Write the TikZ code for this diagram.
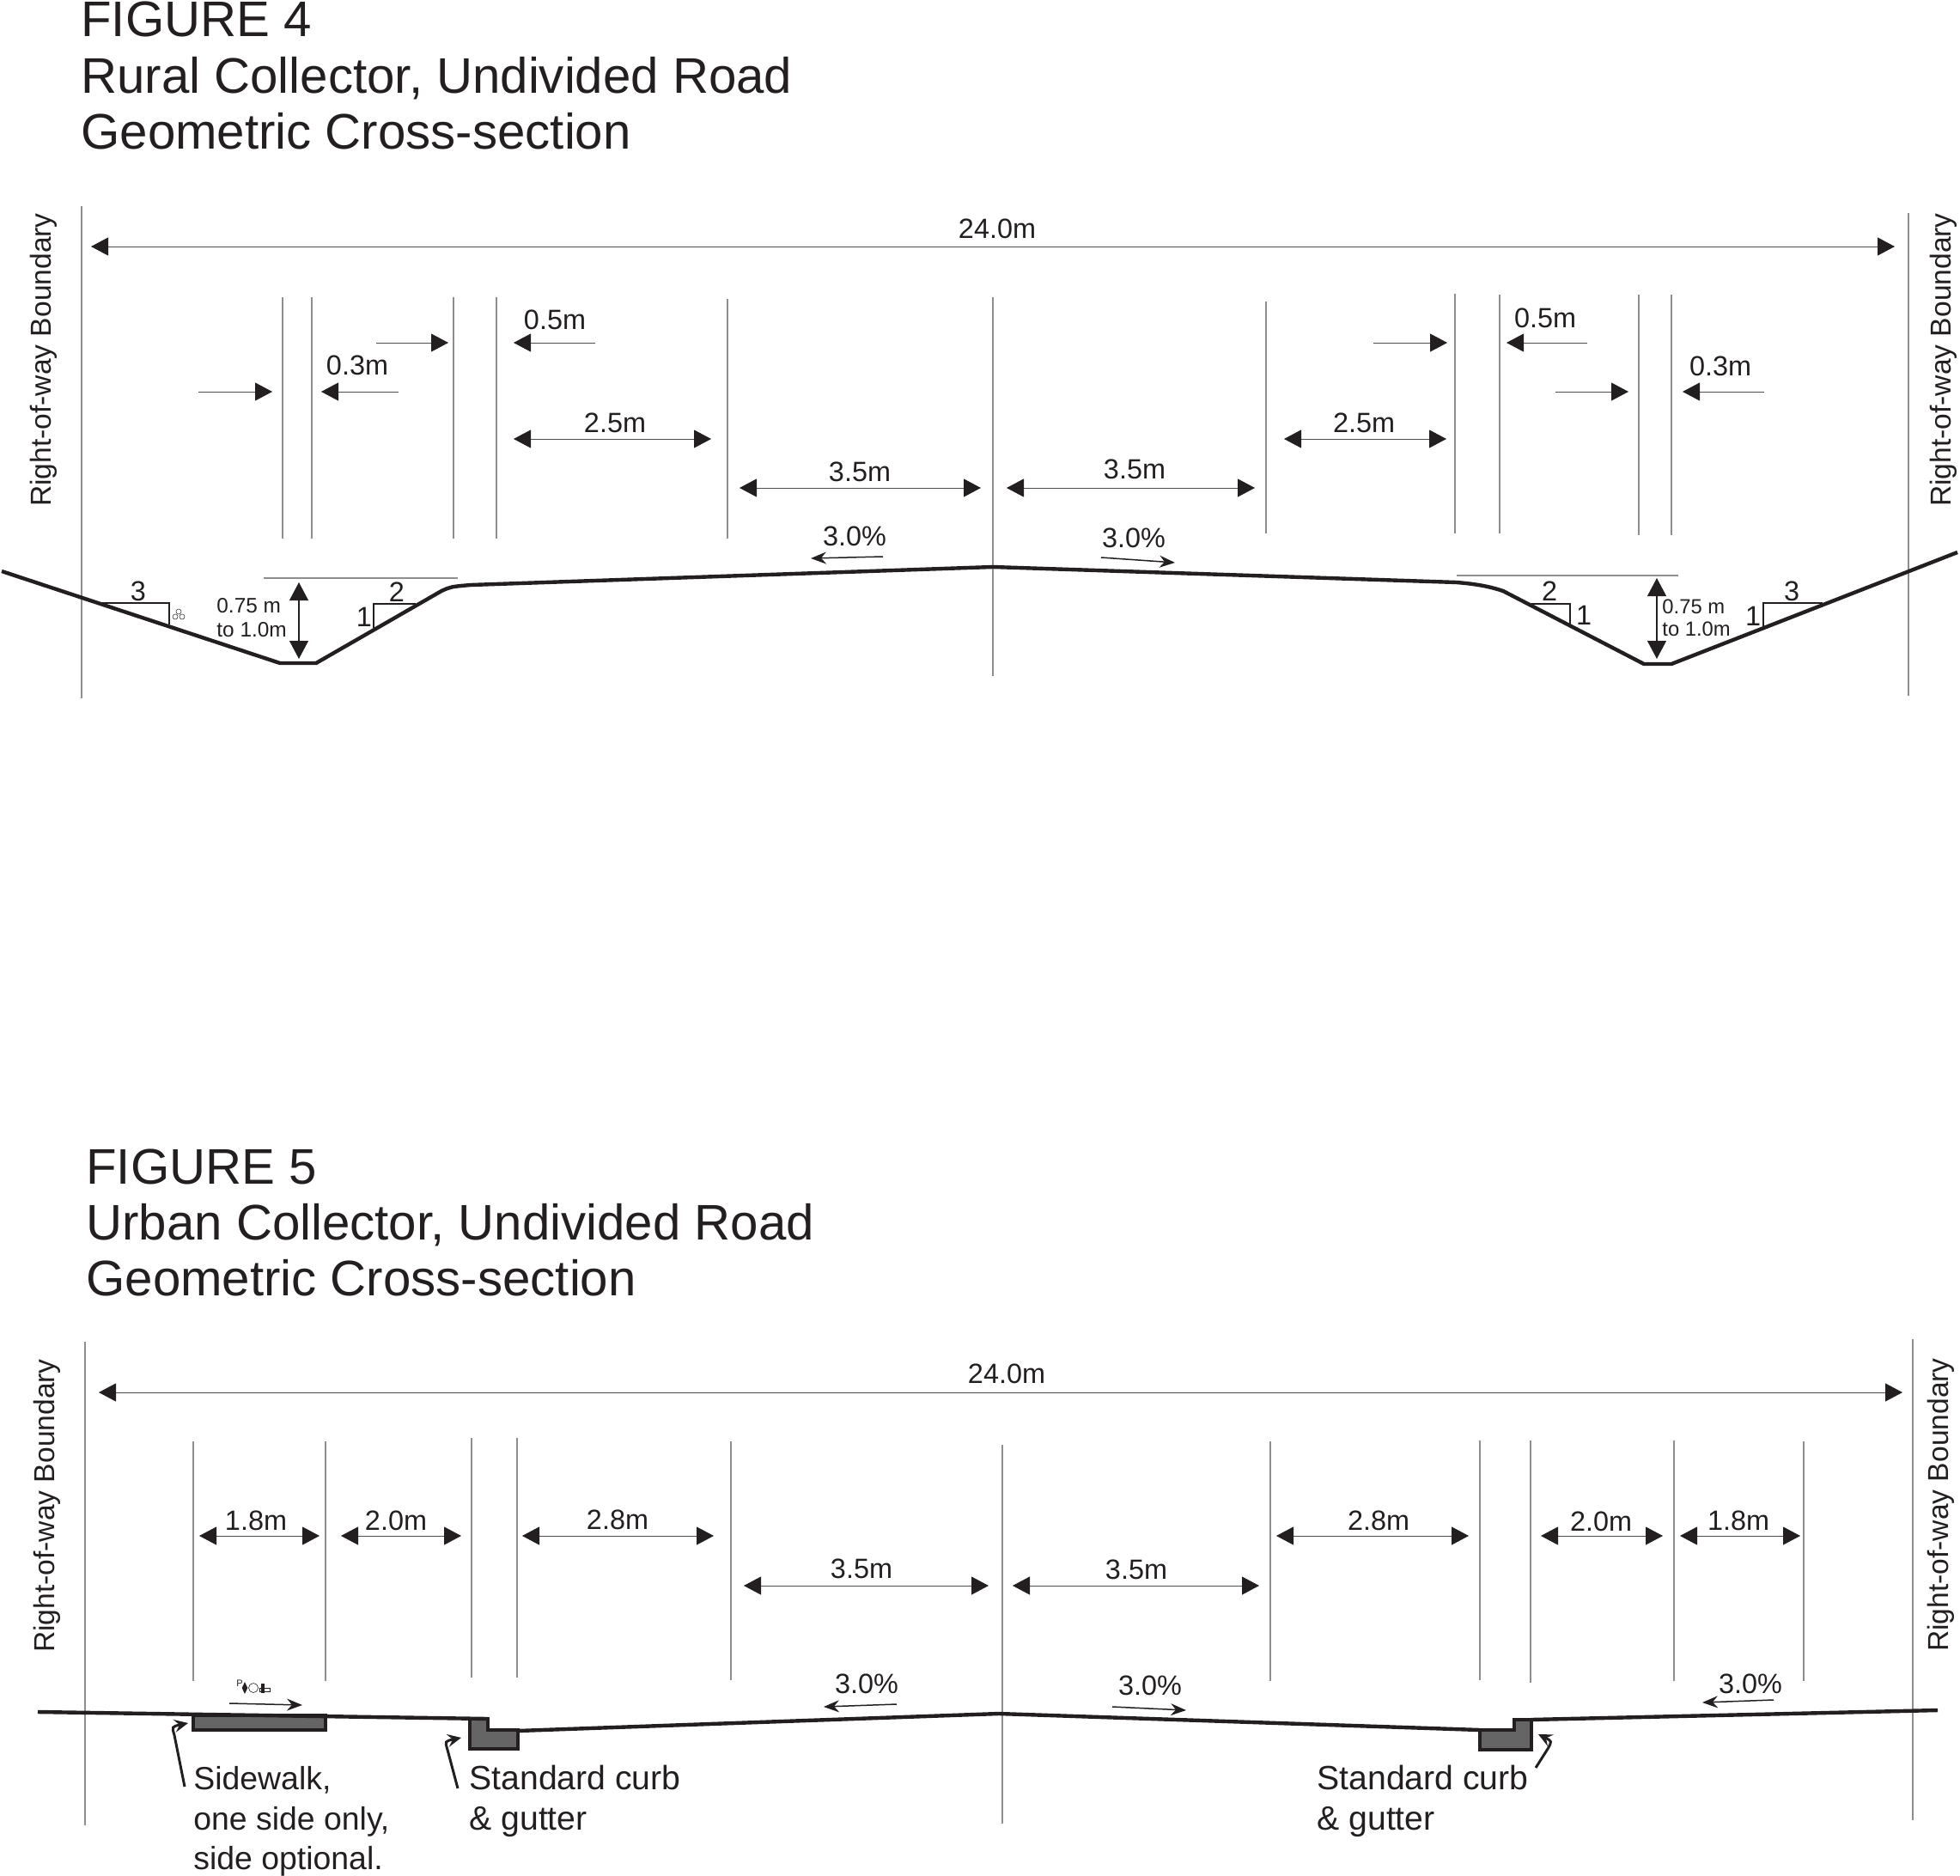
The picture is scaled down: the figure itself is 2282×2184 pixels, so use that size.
\documentclass[tikz,border=0pt]{standalone}
\usepackage{xcolor}
\usepackage{fontspec}
\setmainfont{Liberation Sans}
\usetikzlibrary{arrows.meta}
\usetikzlibrary{shapes.geometric}
\definecolor{inkdark}{HTML}{231F20}
\definecolor{guidegray}{HTML}{8F8D8E}
\definecolor{curbgray}{HTML}{666566}
\definecolor{dimgray}{HTML}{4F4D4E}
\tikzset{
  titletext/.style={anchor=base west, inner sep=0pt, text=inkdark, font=\fontsize{29.1}{32}\selectfont},
  dimtext/.style={inner sep=0pt, text=inkdark, font=\fontsize{16.2}{20}\selectfont},
  rowtext/.style={rotate=90, inner sep=0pt, text=inkdark, font=\fontsize{16.8}{20}\selectfont},
  smalltext/.style={anchor=west, inner sep=0pt, text=inkdark, font=\fontsize{12.2}{15}\selectfont},
  notetext/.style={anchor=north west, inner sep=0pt, text=inkdark, align=left, font=\fontsize{18.7}{23.3}\selectfont},
  curbtext/.style={anchor=north west, inner sep=0pt, text=inkdark, align=left, font=\fontsize{19.6}{23.3}\selectfont},
  guide/.style={draw=guidegray, line width=0.7pt},
  dimline/.style={draw=dimgray, line width=0.5pt, {Triangle[length=10pt,width=10.5pt,color=inkdark]}-{Triangle[length=10pt,width=10.5pt,color=inkdark]}},
  flowline/.style={draw=dimgray, line width=0.5pt, -{Triangle[length=10pt,width=10.5pt,color=inkdark]}},
  riseline/.style={draw=inkdark, line width=0.55pt, {Triangle[length=10.5pt,width=11pt]}-{Triangle[length=10.5pt,width=11pt]}},
  slopeline/.style={draw=inkdark, line width=0.75pt, -{Stealth[length=9pt,width=7pt,inset=3pt]}},
  leaderline/.style={draw=inkdark, line width=1.5pt, -{Stealth[length=8pt,width=7.5pt,inset=3pt]}},
  roadline/.style={draw=inkdark, line width=2.2pt, line join=round},
  curbfill/.style={draw=inkdark, fill=curbgray, line width=1.8pt},
  slopebox/.style={draw=inkdark, line width=0.7pt},
  markline/.style={draw=inkdark, line width=0.25pt}
}
\begin{document}
\begin{tikzpicture}[x=0.5pt, y=-0.5pt]
\useasboundingbox (0,0) rectangle (2282,2184);

% figure 4
\node [titletext] (fourA) at (94, 42) {FIGURE 4};
\node [titletext] (fourB) at (94, 108) {Rural Collector, Undivided Road};
\node [titletext] (fourC) at (94, 173) {Geometric Cross-section};

\draw [guide] (95, 240) -- (95, 813);
\draw [guide] (2222, 248) -- (2222, 810);
\draw [guide] (329, 346) -- (329, 627);
\draw [guide] (363, 346) -- (363, 627);
\draw [guide] (528, 346) -- (528, 627);
\draw [guide] (578, 346) -- (578, 627);
\draw [guide] (847, 348) -- (847, 627);
\draw [guide] (1156, 346) -- (1156, 787);
\draw [guide] (1474, 351) -- (1474, 621);
\draw [guide] (1694, 342) -- (1694, 621);
\draw [guide] (1746, 343) -- (1746, 621);
\draw [guide] (1908, 343) -- (1908, 623);
\draw [guide] (1946, 343) -- (1946, 623);
\draw [guide] (307, 673) -- (533, 673);
\draw [guide] (1696, 670) -- (1954, 670);

\node [rowtext] (rowA) at (51, 419) {Right-of-way Boundary};
\node [rowtext] (rowB) at (2263, 419) {Right-of-way Boundary};

\draw [dimline] (106, 287) -- (2206, 287);
\node [dimtext] (wTotal) at (1161, 266) {24.0m};
\draw [flowline] (231, 456) -- (317, 456);
\draw [flowline] (464, 456) -- (374, 456);
\node [dimtext] (wDitchL) at (416, 425) {0.3m};
\draw [flowline] (438, 399) -- (522, 399);
\draw [flowline] (693, 399) -- (598, 399);
\node [dimtext] (wRoundL) at (646, 372) {0.5m};
\draw [dimline] (598, 511) -- (828, 511);
\node [dimtext] (wShoulderL) at (716, 492) {2.5m};
\draw [dimline] (861, 568) -- (1142, 568);
\node [dimtext] (wLaneL) at (1001, 549) {3.5m};
\draw [dimline] (1172, 568) -- (1461, 568);
\node [dimtext] (wLaneR) at (1321, 546) {3.5m};
\draw [dimline] (1495, 511) -- (1684, 511);
\node [dimtext] (wShoulderR) at (1588, 492) {2.5m};
\draw [flowline] (1599, 399) -- (1685, 399);
\draw [flowline] (1848, 399) -- (1754, 399);
\node [dimtext] (wRoundR) at (1799, 370) {0.5m};
\draw [flowline] (1811, 456) -- (1896, 456);
\draw [flowline] (2054, 456) -- (1959, 456);
\node [dimtext] (wDitchR) at (2003, 426) {0.3m};

\node [dimtext] (gradeL) at (995, 624) {3.0\%};
\draw [slopeline] (1028, 648) -- (944, 650);
\node [dimtext] (gradeR) at (1320, 626) {3.0\%};
\draw [slopeline] (1282, 649) -- (1368, 655);

\draw [slopebox] (119, 702) -- (197, 702) -- (197, 727);
\node [dimtext] (runA) at (161, 688) {3};
\draw [markline] (208, 712) circle (3);
\draw [markline] (204, 718) circle (3);
\draw [markline] (212, 718) circle (3);
\draw [slopebox] (484, 703) -- (435, 703) -- (435, 731);
\node [dimtext] (runB) at (462, 689) {2};
\node [dimtext] (riseB) at (424, 718) {1};
\draw [slopebox] (1783, 703) -- (1828, 703) -- (1828, 726);
\node [dimtext] (runC) at (1804, 688) {2};
\node [dimtext] (riseC) at (1844, 716) {1};
\draw [slopebox] (2122, 702) -- (2053, 702) -- (2053, 729);
\node [dimtext] (runD) at (2086, 688) {3};
\node [dimtext] (riseD) at (2041, 717) {1};

\draw [riseline] (348, 678) -- (348, 767);
\node [smalltext] (depthA) at (252, 705) {0.75 m};
\node [smalltext] (depthB) at (252, 733) {to 1.0m};
\draw [riseline] (1929, 673) -- (1929, 767);
\node [smalltext, font=\fontsize{11.9}{15}\selectfont] (depthC) at (1935, 706) {0.75 m};
\node [smalltext, font=\fontsize{11.9}{15}\selectfont] (depthD) at (1935, 732) {to 1.0m};

\draw [roadline] (2, 665) -- (326, 772) -- (368, 772) -- (514, 688) .. controls (525, 683) .. (548, 681) -- (1156, 660) -- (1696, 678) .. controls (1720, 680) and (1735, 683) .. (1750, 688) -- (1914, 773) -- (1946, 773) -- (2279, 643);

% figure 5
\node [titletext] (fiveA) at (100, 1378) {FIGURE 5};
\node [titletext] (fiveB) at (100, 1443) {Urban Collector, Undivided Road};
\node [titletext] (fiveC) at (100, 1508) {Geometric Cross-section};

\draw [guide] (99, 1562) -- (99, 2125);
\draw [guide] (2227, 1559) -- (2227, 2119);
\draw [guide] (225, 1678) -- (225, 1957);
\draw [guide] (379, 1678) -- (379, 1957);
\draw [guide] (549, 1674) -- (549, 1953);
\draw [guide] (602, 1674) -- (602, 1953);
\draw [guide] (851, 1678) -- (851, 1956);
\draw [guide] (1167, 1682) -- (1167, 2123);
\draw [guide] (1479, 1678) -- (1479, 1957);
\draw [guide] (1723, 1677) -- (1723, 1956);
\draw [guide] (1782, 1677) -- (1782, 1959);
\draw [guide] (1949, 1677) -- (1949, 1957);
\draw [guide] (2100, 1678) -- (2100, 1957);

\node [rowtext] (rowC) at (55, 1753) {Right-of-way Boundary};
\node [rowtext] (rowD) at (2260, 1752) {Right-of-way Boundary};

\draw [dimline] (115, 1621) -- (2215, 1621);
\node [dimtext] (uTotal) at (1172, 1599) {24.0m};
\draw [dimline] (232, 1788) -- (372, 1788);
\node [dimtext] (uWalkL) at (298, 1770) {1.8m};
\draw [dimline] (397, 1788) -- (537, 1788);
\node [dimtext] (uBoulevardL) at (461, 1770) {2.0m};
\draw [dimline] (608, 1788) -- (831, 1788);
\node [dimtext] (uParkL) at (719, 1769) {2.8m};
\draw [dimline] (866, 1846) -- (1151, 1846);
\node [dimtext] (uLaneL) at (1003, 1826) {3.5m};
\draw [dimline] (1179, 1846) -- (1466, 1846);
\node [dimtext] (uLaneR) at (1323, 1827) {3.5m};
\draw [dimline] (1486, 1788) -- (1710, 1788);
\node [dimtext] (uParkR) at (1605, 1770) {2.8m};
\draw [dimline] (1794, 1788) -- (1936, 1788);
\node [dimtext] (uBoulevardR) at (1864, 1771) {2.0m};
\draw [dimline] (1956, 1788) -- (2096, 1788);
\node [dimtext] (uWalkR) at (2024, 1770) {1.8m};

\node [dimtext] (gradeC) at (1009, 1960) {3.0\%};
\draw [slopeline] (1044, 1984) -- (959, 1987);
\node [dimtext] (gradeD) at (1339, 1962) {3.0\%};
\draw [slopeline] (1295, 1987) -- (1381, 1991);
\node [dimtext] (gradeE) at (2038, 1960) {3.0\%};
\draw [slopeline] (2065, 1979) -- (1982, 1982);
\draw [slopeline] (267, 1983) -- (352, 1985);

% walking mark above the sidewalk
\node [inner sep=0pt, text=inkdark, font=\fontsize{5.5}{6}\selectfont] (walkP) at (279, 1960) {P};
\node [diamond, aspect=0.5, fill=inkdark, inner sep=0pt, minimum width=3.5pt, minimum height=7pt] (walkA) at (285, 1965) {};
\node [circle, draw=inkdark, line width=0.3pt, inner sep=0pt, minimum size=5.5pt] (walkB) at (295, 1965) {};
\node [rectangle, draw=inkdark, line width=0.2pt, inner sep=0pt, minimum width=6pt, minimum height=2pt] (walkD) at (308, 1967) {};
\node [rectangle, fill=inkdark, inner sep=0pt, minimum width=2pt, minimum height=5.5pt] (walkC) at (306, 1965) {};

\draw [curbfill] (225, 1997) rectangle (379, 2014);
\draw [curbfill] (547, 2001) -- (568, 2001) -- (568, 2014) -- (603, 2014) -- (603, 2036) -- (547, 2036) -- cycle;
\draw [curbfill] (1723, 2014) -- (1763, 2014) -- (1763, 2002) -- (1783, 2002) -- (1783, 2037) -- (1723, 2037) -- cycle;
\draw [roadline] (44, 1993) -- (568, 2001);
\draw [roadline] (603, 2015) -- (1163, 1995) -- (1723, 2014);
\draw [roadline] (1783, 2002) -- (2256, 1991);

\draw [leaderline] (215, 2080) -- (203, 2020) .. controls (200, 2010) .. (219, 2006);
\draw [leaderline] (533, 2082) -- (521, 2037) .. controls (518, 2027) .. (537, 2023);
\draw [leaderline] (1788, 2058) -- (1802, 2036) .. controls (1807, 2027) .. (1791, 2019);
\node [notetext] (noteWalk) at (225, 2056) {Sidewalk,\\one side only,\\side optional.};
\node [curbtext] (noteCurbL) at (546, 2055) {Standard curb\\\& gutter};
\node [curbtext] (noteCurbR) at (1533, 2055) {Standard curb\\\& gutter};
\end{tikzpicture}
\end{document}
